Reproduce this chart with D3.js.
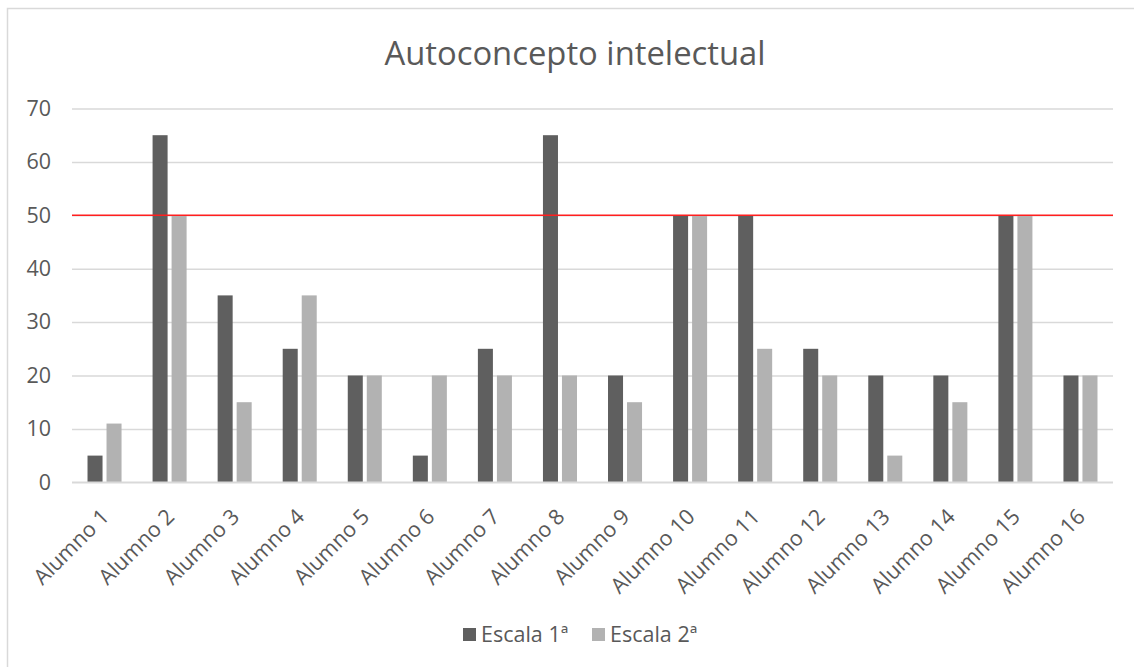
<!DOCTYPE html>
<html>
<head>
<meta charset="utf-8">
<script src="https://cdn.jsdelivr.net/npm/d3@7/dist/d3.min.js"></script>
<style>
  html, body { margin: 0; padding: 0; background: #fff; }
  svg { display: block; font-family: "Open Sans", sans-serif; }
</style>
</head>
<body>
<svg id="chart" width="1134" height="667"></svg>
<script>
// Autoconcepto intelectual — puntuaciones por alumno en dos escalas
const alumnos = ["Alumno 1","Alumno 2","Alumno 3","Alumno 4","Alumno 5","Alumno 6","Alumno 7","Alumno 8",
                 "Alumno 9","Alumno 10","Alumno 11","Alumno 12","Alumno 13","Alumno 14","Alumno 15","Alumno 16"];
const escala1 = [5, 65, 35, 25, 20, 5, 25, 65, 20, 50, 50, 25, 20, 20, 50, 20];
const escala2 = [11, 50, 15, 35, 20, 20, 20, 20, 15, 50, 25, 20, 5, 15, 50, 20];
const seriesNames = ["Escala 1ª", "Escala 2ª"];
const yTicks = [0, 10, 20, 30, 40, 50, 60, 70];
const referencia = 50;

const colors = ["#5f5f5f", "#b2b2b2"];
const textColor = "#595959";
const smallFont = "21.5px";

const svg = d3.select("#chart");
const W = 1134, H = 667;
const plot = { left: 72, right: 1113, top: 108.5, bottom: 482.3 };

// outer chart frame
svg.append("rect")
  .attr("x", 7.5).attr("y", 8.5)
  .attr("width", W + 20).attr("height", H + 20)
  .attr("fill", "#fff").attr("stroke", "#d9d9d9").attr("stroke-width", 1.5);

// title
svg.append("text")
  .attr("x", 575).attr("y", 65)
  .attr("text-anchor", "middle")
  .attr("fill", textColor)
  .style("font-size", "32.8px")
  .text("Autoconcepto intelectual");

const x = d3.scaleBand().domain(alumnos).range([plot.left, plot.right]).paddingInner(0.477).paddingOuter(0.2385);
const xs = d3.scaleBand().domain(seriesNames).range([0, x.bandwidth()]).paddingInner(0.21);
const y = d3.scaleLinear().domain([0, 70]).range([plot.bottom, plot.top]);

// gridlines + y labels
const yAxis = d3.axisLeft(y).tickValues(yTicks).tickSize(-(plot.right - plot.left)).tickPadding(21);
const gy = svg.append("g").attr("transform", `translate(${plot.left},0)`).call(yAxis);
gy.select(".domain").remove();
gy.selectAll(".tick line").attr("stroke", "#d9d9d9").attr("stroke-width", 1.5);
gy.selectAll(".tick text")
  .attr("fill", textColor)
  .style("font-size", smallFont)
  .style("font-family", "'Open Sans', sans-serif");

// bars
const rows = alumnos.map((a, i) => ({ alumno: a, values: [escala1[i], escala2[i]] }));
const groups = svg.append("g").selectAll("g").data(rows).join("g")
  .attr("transform", d => `translate(${x(d.alumno)},0)`);
groups.selectAll("rect")
  .data(d => d.values.map((v, k) => ({ serie: seriesNames[k], v, k })))
  .join("rect")
  .attr("x", d => xs(d.serie))
  .attr("width", xs.bandwidth())
  .attr("y", d => y(d.v))
  .attr("height", d => y(0) - y(d.v))
  .attr("fill", d => colors[d.k]);

// baseline at zero
svg.append("line")
  .attr("x1", plot.left).attr("x2", plot.right)
  .attr("y1", y(0)).attr("y2", y(0))
  .attr("stroke", "#d9d9d9").attr("stroke-width", 1.5);

// reference line at 50
svg.append("line")
  .attr("x1", plot.left).attr("x2", plot.right)
  .attr("y1", y(referencia)).attr("y2", y(referencia))
  .attr("stroke", "#ff1f1f").attr("stroke-width", 1.5);

// rotated category labels
svg.append("g").selectAll("text").data(alumnos).join("text")
  .attr("transform", d => `translate(${x(d) + x.bandwidth() / 2 + 6},518) rotate(-45)`)
  .attr("text-anchor", "end")
  .attr("fill", textColor)
  .style("font-size", smallFont)
  .text(d => d);

// legend
const legend = svg.append("g");
const legendItems = [
  { name: seriesNames[0], color: colors[0], x: 463 },
  { name: seriesNames[1], color: colors[1], x: 592 }
];
legendItems.forEach(it => {
  legend.append("rect").attr("x", it.x).attr("y", 628).attr("width", 13).attr("height", 13).attr("fill", it.color);
  legend.append("text").attr("x", it.x + 18).attr("y", 642)
    .attr("fill", textColor).style("font-size", smallFont).text(it.name);
});
</script>
</body>
</html>
